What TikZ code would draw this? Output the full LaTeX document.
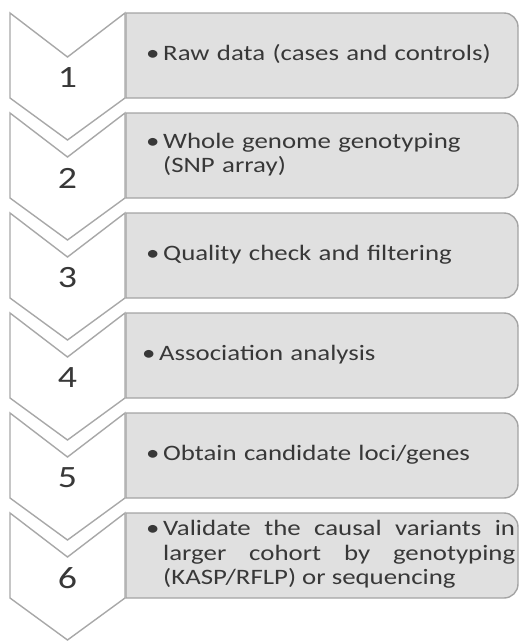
\documentclass[tikz,border=0pt]{standalone}
\usepackage{fontspec}
\setmainfont{Carlito}[FakeStretch=1.22]
\definecolor{boxfill}{HTML}{E0E0E0}
\definecolor{boxline}{HTML}{A4A4A4}
\definecolor{chevline}{HTML}{A8A8A8}
\definecolor{ink}{HTML}{383838}

% One step of the pipeline: #1 number, #2 top edge, #3 text x, #4 alignment, #5 text
\newcommand{\gwasstep}[5]{%
  \draw[stepbox] (126,#2) -- (504,#2)
      arc[start angle=-90,end angle=0,radius=14] -- (518,#2+71)
      arc[start angle=0,end angle=90,radius=14] -- (126,#2+85) -- cycle;
  \draw[chevron] (10,#2) -- (67.5,#2+44) -- (125,#2) -- (125,#2+85)
      -- (67.5,#2+127) -- (10,#2+85) -- cycle;
  \node[stepnum] (num#1) at (67.5,#2+65) {#1};
  \node[steptext,align=#4] (txt#1) at (#3,#2+42.5)
      {\strut\llap{\makebox[17pt][l]{\textbullet}}#5\strut};
}

\begin{document}
\begin{tikzpicture}[x=1pt,y=-1pt,
  chevron/.style={draw=chevline, fill=white, line width=1.4pt, line join=miter},
  stepbox/.style={draw=boxline, fill=boxfill, line width=1.4pt},
  steptext/.style={anchor=west, inner sep=0pt, text width=352pt, text=ink,
    font=\fontsize{22}{24.5}\selectfont},
  stepnum/.style={inner sep=0pt, text=ink, font=\fontsize{31}{36}\selectfont}]
\useasboundingbox (0,0) rectangle (521,641);

\gwasstep{1}{13}{163}{left}{Raw data (cases and controls)}
\gwasstep{2}{113}{163}{left}{Whole genome genotyping\newline (SNP array)}
\gwasstep{3}{213}{163}{left}{Quality check and filtering}
\gwasstep{4}{313}{159}{left}{Association analysis}
\gwasstep{5}{413}{163}{left}{Obtain candidate loci/genes}
\gwasstep{6}{513}{163}{justify}{Validate the causal variants in\linebreak
  larger cohort by genotyping\linebreak (KASP/RFLP) or sequencing}
\end{tikzpicture}
\end{document}
